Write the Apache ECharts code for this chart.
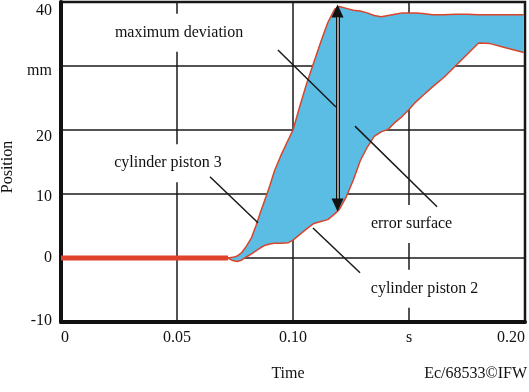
<!DOCTYPE html>
<html>
<head>
<meta charset="utf-8">
<script src="https://cdn.jsdelivr.net/npm/echarts@6/dist/echarts.min.js"></script>
<style>
  html, body { margin: 0; padding: 0; background: #fff; }
  #chart { width: 529px; height: 392px; }
</style>
</head>
<body>
<div id="chart"></div>
<script>
// time (s) shared by both piston curves
const time = [0.072, 0.074, 0.076, 0.078, 0.080, 0.082, 0.084, 0.086, 0.088, 0.090,
  0.092, 0.095, 0.098, 0.100, 0.103, 0.106, 0.109, 0.112, 0.115, 0.118,
  0.120, 0.123, 0.126, 0.129, 0.132, 0.135, 0.138, 0.141, 0.144, 0.147,
  0.150, 0.153, 0.156, 0.160, 0.165, 0.170, 0.175, 0.180, 0.185, 0.190, 0.1995]
// position (mm) of cylinder piston 3 (upper curve)
const piston3 = [0, 0.1, 0.3, 0.9, 1.9, 3.1, 5.0, 7.2, 9.2, 11.3,
  13.6, 16.2, 18.5, 20.0, 23.8, 27.4, 30.6, 33.8, 36.8, 38.9,
  39.3, 39.0, 38.7, 38.6, 38.3, 37.9, 37.7, 37.9, 38.1, 38.3,
  38.3, 38.3, 38.2, 38.0, 38.0, 38.1, 38.1, 38.0, 38.0, 38.0, 38.0]
// position (mm) of cylinder piston 2 (lower curve)
const piston2 = [0, -0.4, -0.55, -0.3, 0.2, 0.6, 1.1, 1.6, 2.0, 2.2,
  2.3, 2.3, 2.4, 2.8, 3.7, 4.6, 5.4, 5.7, 6.0, 6.9,
  7.6, 9.6, 12.2, 15.2, 17.3, 19.0, 19.7, 20.1, 21.2, 22.1,
  23.2, 24.4, 25.4, 26.7, 28.2, 30.0, 31.8, 33.6, 33.5, 33.0, 32.1]
// both pistons at rest before the move
const restTime = [0, 0.072]
const restPos = [0, 0]

// tick labels
const xLabels = ['0', '0.05', '0.10', 's', '0.20']
const yLabels = ['-10', '0', '10', '20', 'mm', '40']
const yLabelStyle = ['m', 'z', 'a', 'b', 'c', 'd']

// annotation texts [t, mm]
const notes = [
  { name: 'maximum deviation', coord: [0.0509, 35.2] },
  { name: 'cylinder piston 3', coord: [0.0461, 14.8] },
  { name: 'error surface', coord: [0.1511, 5.3] },
  { name: 'cylinder piston 2', coord: [0.1567, -4.8] }
]
// leader lines [[t, mm], [t, mm]]
const leaders = [
  [[0.0935, 32.5], [0.1185, 23.6]],
  [[0.0642, 12.7], [0.0849, 5.5]],
  [[0.1267, 20.6], [0.1621, 8.0]],
  [[0.1086, 4.7], [0.1289, -2.3]]
]
// max deviation arrow
const deviation = [[0.1192, 38.6], [0.1192, 8.3]]

const font = "'Liberation Serif', 'Times New Roman', serif"
const red = '#d9452c'
const blue = '#5bbde3'

const chart = echarts.init(document.getElementById('chart'))
const option = {
  animation: false,
  textStyle: { fontFamily: font },
  grid: {
    left: 61, right: 4, top: 2, bottom: 70,
    outerBoundsMode: 'none',
    show: true, borderColor: '#111', borderWidth: 2.5
  },
  xAxis: {
    type: 'value', min: 0, max: 0.2, interval: 0.05,
    name: 'Time', nameLocation: 'middle', nameGap: 44,
    nameTextStyle: { fontSize: 16, color: '#111', fontFamily: font, padding: [0, 10, 0, 0] },
    axisLine: { show: true, onZero: false, lineStyle: { color: '#111', width: 4 } },
    axisTick: { show: false },
    axisLabel: {
      fontSize: 16, color: '#111', fontFamily: font, margin: 8,
      alignMinLabel: 'left', alignMaxLabel: 'right',
      formatter: v => xLabels[Math.round(v / 0.05)]
    },
    splitLine: { show: true, lineStyle: { color: '#1a1a1a', width: 1.5 } }
  },
  yAxis: {
    type: 'value', min: -10, max: 40, interval: 10,
    name: 'Position', nameLocation: 'middle', nameGap: 44,
    nameTextStyle: { fontSize: 16, color: '#111', fontFamily: font, padding: [0, 10, 0, 0] },
    axisLine: { show: true, onZero: false, lineStyle: { color: '#111', width: 4 } },
    axisTick: { show: false },
    axisLabel: {
      fontSize: 16, color: '#111', fontFamily: font, margin: 9,
      formatter: v => {
        const i = Math.round(v / 10) + 1
        return '{' + yLabelStyle[i] + '|' + yLabels[i] + '}'
      },
      rich: {
        d: { fontSize: 16, fontFamily: font, color: '#111', padding: [18, 0, 0, 0] },
        c: { fontSize: 16, fontFamily: font, color: '#111', padding: [10, 0, 0, 0] },
        b: { fontSize: 16, fontFamily: font, color: '#111', padding: [14, 0, 0, 0] },
        a: { fontSize: 16, fontFamily: font, color: '#111', padding: [6, 0, 0, 0] },
        z: { fontSize: 16, fontFamily: font, color: '#111' },
        m: { fontSize: 16, fontFamily: font, color: '#111', padding: [0, 0, 2, 0] }
      }
    },
    splitLine: { show: true, lineStyle: { color: '#1a1a1a', width: 1.5 } }
  },
  graphic: [
    {
      type: 'text', right: 2, top: 366,
      style: { text: 'Ec/68533©IFW', font: '16px ' + font, fill: '#111' }
    }
  ],
  series: [
    {
      name: 'error surface',
      type: 'custom',
      silent: true,
      clip: true,
      z: 2,
      data: [0],
      renderItem: (params, api) => {
        const top = time.map((t, i) => api.coord([t, piston3[i]]))
        const bottom = time.map((t, i) => api.coord([t, piston2[i]])).reverse()
        return {
          type: 'polygon',
          shape: { points: top.concat(bottom) },
          style: { fill: blue, stroke: null }
        }
      }
    },
    {
      name: 'cylinder piston 3',
      type: 'line',
      z: 3,
      showSymbol: false,
      lineStyle: { color: red, width: 1.5 },
      data: time.map((t, i) => [t, piston3[i]])
    },
    {
      name: 'cylinder piston 2',
      type: 'line',
      z: 3,
      showSymbol: false,
      lineStyle: { color: red, width: 1.5 },
      data: time.map((t, i) => [t, piston2[i]])
    },
    {
      name: 'rest',
      type: 'line',
      z: 3,
      showSymbol: false,
      lineStyle: { color: '#e0412b', width: 5 },
      data: restTime.map((t, i) => [t, restPos[i]]),
      markPoint: {
        z: 5,
        silent: true,
        symbol: 'rect',
        symbolSize: 1,
        itemStyle: { color: 'rgba(0,0,0,0)' },
        label: {
          show: true, position: 'inside', formatter: '{b}',
          fontSize: 16, color: '#111', fontFamily: font,
          backgroundColor: '#fff', padding: [11, 3]
        },
        data: notes
      },
      markLine: {
        z: 6,
        silent: true,
        symbol: 'none',
        label: { show: false },
        lineStyle: { color: '#1a1a1a', width: 1.5, type: 'solid' },
        data: leaders.map(l => [{ coord: l[0] }, { coord: l[1] }])
          .concat([[
            { coord: deviation[0], symbol: 'triangle', symbolSize: [12, 13], lineStyle: { color: '#111', width: 4 } },
            { coord: deviation[1], symbol: 'triangle', symbolSize: [12, 13] }
          ]])
      }
    },
    {
      name: 'arrow shaft',
      type: 'line',
      data: [],
      markLine: {
        z: 7,
        silent: true,
        symbol: 'none',
        label: { show: false },
        lineStyle: { color: '#c8c8c8', width: 1.5, type: 'solid' },
        data: [[{ coord: [deviation[0][0], deviation[0][1] - 1] }, { coord: [deviation[1][0], deviation[1][1] + 1] }]]
      }
    }
  ]
}
chart.setOption(option)
</script>
</body>
</html>
